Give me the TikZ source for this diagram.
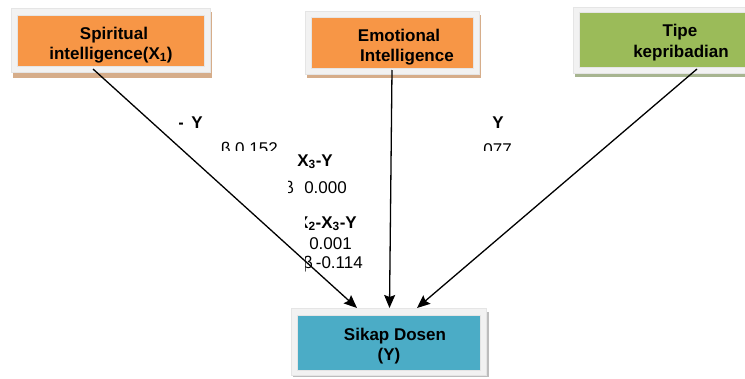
\documentclass[tikz,border=0pt]{standalone}
\usepackage{fontspec}
\setmainfont{Liberation Sans}
\usetikzlibrary{arrows.meta}
\definecolor{orangefill}{HTML}{F79646}
\definecolor{greenfill}{HTML}{9BBB59}
\definecolor{bluefill}{HTML}{4BACC6}
\definecolor{framegray}{HTML}{F2F2F2}
\definecolor{tanshadow}{HTML}{D6AD8A}
\definecolor{greenshadow}{HTML}{A7B590}
\definecolor{grayshadow}{HTML}{BDBDBD}
\tikzset{
  frame/.style={fill=framegray, draw=black!10, line width=0.5pt},
  colbox/.style={draw=white!80!gray, line width=0.5pt, inner sep=0pt},
  lbl/.style={font=\bfseries\fontsize{17}{19}\selectfont, inner sep=0pt, anchor=base},
  num/.style={font=\fontsize{17}{19}\selectfont, inner sep=0pt, anchor=base east},
  bnum/.style={font=\bfseries\fontsize{17}{19}\selectfont, inner sep=0pt, anchor=base east},
  arr/.style={draw=black, line width=1.3pt, -{Stealth[length=13pt,width=11pt,inset=2pt]}}
}
\begin{document}
\begin{tikzpicture}[x=1pt,y=-1pt]
\useasboundingbox (0,0) rectangle (745,378);
% box 1
\fill[tanshadow] (13,12) rectangle (212,78);
\draw[frame] (11,8) rectangle (210,72);
\node[colbox, fill=orangefill, minimum width=187pt, minimum height=51pt] (s1) at (110.5,40.5) {};
\node[lbl] (s1a) at (114,39) {Spiritual};
\node[lbl] (s1b) at (111,59) {intelligence(X\textsubscript{1})};
% box 2
\fill[tanshadow] (307,15) rectangle (481,78);
\draw[frame] (305,11) rectangle (479,74);
\node[colbox, fill=orangefill, minimum width=162pt, minimum height=51pt] (s2) at (392,42.5) {};
\node[lbl] (s2a) at (399,41) {Emotional};
\node[lbl] (s2b) at (407,61) {Intelligence};
% box 3
\fill[greenshadow] (575,11) rectangle (752,77);
\draw[frame] (573,7) rectangle (750,73);
\node[colbox, fill=greenfill, minimum width=168pt, minimum height=55pt] (s3) at (663,39.5) {};
\node[lbl] (s3a) at (680,36) {Tipe};
\node[lbl] (s3b) at (681,57) {kepribadian};
% box 4
\fill[grayshadow] (293,312) rectangle (489,377);
\draw[frame] (291,308) rectangle (486,375);
\node[colbox, fill=bluefill, minimum width=183pt, minimum height=55pt] (y) at (388.5,342.5) {};
\node[lbl] (ya) at (395,340) {Sikap Dosen};
\node[lbl] (yb) at (389,360) {(Y)};
% connectors
\coordinate (a1) at (93,69);
\coordinate (a2) at (392,70);
\coordinate (a3) at (697,69);
\coordinate (t1) at (357,308);
\coordinate (t2) at (389.5,308);
\coordinate (t3) at (417,308);
\draw[arr] (a1) -- (t1);
\draw[arr] (a2) -- (t2);
\draw[arr] (a3) -- (t3);
% coefficient texts (partly hidden as in the picture)
\begin{scope}
\clip (179.5,105) rectangle (182,135);
\node[bnum] (c1h) at (184,128) {-};
\end{scope}
\node[bnum] (c1) at (203,128) {Y};
\begin{scope}
\clip (210,130) rectangle (290,150.5);
\node[num] (c2) at (278,154.5) {β 0.152};
\end{scope}
\node[bnum] (c3) at (333,166) {X\textsubscript{3}-Y};
\begin{scope}
\clip (288.5,175) rectangle (300,200);
\node[num] (c4b) at (294,193) {β};
\end{scope}
\node[num] (c4) at (347,193) {0.000};
\begin{scope}
\clip (305.5,205) rectangle (365,233);
\node[bnum] (c5) at (357,228) {X\textsubscript{1}-X\textsubscript{2}-X\textsubscript{3}-Y};
\end{scope}
\node[num] (c6) at (352,249) {0.001};
\begin{scope}
\clip (305.5,252) rectangle (311,273);
\node[num] (c7b) at (313,268) {β};
\end{scope}
\node[num] (c7) at (363,268) {-0.114};
\node[bnum] (c8) at (504,128) {Y};
\begin{scope}
\clip (482.5,130) rectangle (520,150.5);
\node[num] (c9) at (512,155) {β 0.077};
\end{scope}
\end{tikzpicture}
\end{document}
